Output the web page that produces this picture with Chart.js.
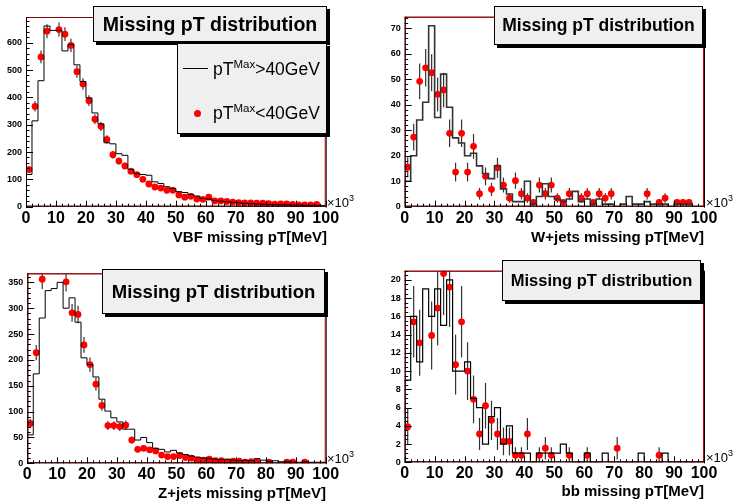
<!DOCTYPE html>
<html>
<head>
<meta charset="utf-8">
<title>Missing pT distribution</title>
<script src="https://cdn.jsdelivr.net/npm/chart.js@4/dist/chart.umd.min.js"></script>
<style>
  html, body { margin: 0; padding: 0; background: #fff; }
  #fig { position: relative; width: 735px; height: 502px; overflow: hidden;
         font-family: "Liberation Sans", Arial, Helvetica, sans-serif; color: #000; }
  #fig canvas { position: absolute; }
  .box { position: absolute; box-sizing: border-box; background: #efefef; border: 1px solid #000;
         box-shadow: 3px 3px 0 #000; display: flex; align-items: center; justify-content: center;
         font-weight: bold; white-space: nowrap; }
  .lbl { position: absolute; white-space: nowrap; line-height: 1; }
  .sup { position: relative; }
</style>
</head>
<body>
<div id="fig">
  <canvas id="pVBF" width="367" height="251" style="left:0;top:0"></canvas>
  <canvas id="pWJ" width="368" height="251" style="left:367px;top:0"></canvas>
  <canvas id="pZJ" width="367" height="251" style="left:0;top:251px"></canvas>
  <canvas id="pBB" width="368" height="251" style="left:367px;top:251px"></canvas>

  <div class="box" style="left:93px;top:6px;width:234px;height:36px;font-size:19.5px">Missing pT distribution</div>
  <div class="box" style="left:177px;top:43px;width:150px;height:91px"></div>
  <div style="position:absolute;left:183px;top:68px;width:25px;height:0;border-top:1px solid #000"></div>
  <div class="lbl" style="left:213px;top:61px;font-size:17.5px">pT<span class="sup" style="font-size:11.5px;top:-7px">Max</span>&gt;40GeV</div>
  <div style="position:absolute;left:193.5px;top:109.5px;width:7px;height:7px;border-radius:50%;background:#ff0000"></div>
  <div class="lbl" style="left:213px;top:105px;font-size:17.5px">pT<span class="sup" style="font-size:11.5px;top:-7px">Max</span>&lt;40GeV</div>
  <div class="lbl" style="right:408px;top:229px;font-size:15px;font-weight:bold">VBF missing pT[MeV]</div>
  <div class="lbl" style="left:327px;top:196px;font-size:13px">×10<span class="sup" style="font-size:9px;top:-6px">3</span></div>

  <div class="box" style="left:494px;top:6px;width:209px;height:39px;font-size:17.5px">Missing pT distribution</div>
  <div class="lbl" style="right:31px;top:229px;font-size:15px;font-weight:bold">W+jets missing pT[MeV]</div>
  <div class="lbl" style="left:706px;top:196px;font-size:13px">×10<span class="sup" style="font-size:9px;top:-6px">3</span></div>

  <div class="box" style="left:102px;top:269px;width:223px;height:45px;font-size:18.5px">Missing pT distribution</div>
  <div class="lbl" style="right:409px;top:485px;font-size:15px;font-weight:bold">Z+jets missing pT[MeV]</div>
  <div class="lbl" style="left:327px;top:452px;font-size:13px">×10<span class="sup" style="font-size:9px;top:-6px">3</span></div>

  <div class="box" style="left:502px;top:260px;width:199px;height:41px;font-size:16.5px">Missing pT distribution</div>
  <div class="lbl" style="right:31px;top:483px;font-size:15px;font-weight:bold">bb missing pT[MeV]</div>
  <div class="lbl" style="left:706px;top:451px;font-size:13px">×10<span class="sup" style="font-size:9px;top:-6px">3</span></div>
</div>

<script>
// Bin centres of the 50 missing-pT bins (x in units of 10^3 MeV), bin width 2
const binCenters = [1, 3, 5, 7, 9, 11, 13, 15, 17, 19, 21, 23, 25, 27, 29, 31, 33, 35, 37, 39,
  41, 43, 45, 47, 49, 51, 53, 55, 57, 59, 61, 63, 65, 67, 69, 71, 73, 75, 77, 79,
  81, 83, 85, 87, 89, 91, 93, 95, 97, 99];
const binWidth = 2;
const xTicks = [0, 10, 20, 30, 40, 50, 60, 70, 80, 90, 100];

// VBF: histogram for pT^Max > 40 GeV, points for pT^Max < 40 GeV
const vbfHist = [118, 314, 461, 661, 645, 645, 570, 594, 519, 458, 398, 343, 303, 234, 230, 194, 188, 136, 121, 118,
  115, 91, 85, 73, 67, 55, 52, 45, 39, 30, 28, 22, 20, 18, 16, 14, 12, 11, 10, 9,
  8, 8, 7, 7, 6, 6, 5, 5, 4, 4];
const vbfPts = [136, 367, 548, 642, null, 648, 631, 590, 494, 449, 388, 320, 294, 246, 190, 167, 149, 130, 117, 100,
  83, 72, 68, 60, 60, 43, 35, 38, 28, 27, 35, 21, 21, 19, 17, 15, 14, 14, 13, 13,
  11, 9, 10, 10, 8, 7, 7, 7, 8, null];
const vbfYTicks = [0, 100, 200, 300, 400, 500, 600];
const vbfYMax = 694;

// W+jets
const wjHist = [10, 20, 34, 41, 71, 35, 52, 39, 27, 25, 20, 21, 16, 13, 11, 16, 7, 5, 2, 2,
  10, 1, 4, 9, 4, 3, 2, 3, 6, 2, 3, 1, 3, 1, 1, 0, 1, 4, 1, 1,
  2, 1, 1, 1, 0, 1, 1, 1, 0, 0];
const wjPts = [15.5, 27.3, 49.2, 54.5, 52.6, 44.1, 45.8, 28.8, 13.6, 28.8, 13.6, 23.7, 5.1, 11.9, 6.8, 15.3, 8.5, 3.4, 10.2, 5.1,
  3.4, 1.7, 8.5, 5.1, 8.5, 3.4, 1.7, 5.1, null, 3.4, 5.1, 1.7, 5.1, 3.4, 5.1, null, null, null, null, null,
  5.1, null, 1.7, 3.4, null, 1.7, 1.7, 1.7, null, null];
const wjYTicks = [0, 10, 20, 30, 40, 50, 60, 70];
const wjYMax = 74.55;

// Z+jets
const zjHist = [55, 173, 281, 334, 338, 350, 300, 320, 273, 204, 191, 167, 124, 101, 88, 80, 66, 66, 45, 50,
  40, 29, 27, 22, 25, 20, 17, 14, 12, 10, 9, 8, 7, 8, 6, 5, 6, 5, 9, 6,
  4, 5, 3, 3, 2, 2, 3, 2, 2, 2];
const zjPts = [77, 214, 356, null, null, null, 351, 291, 288, 229, 191, 153, 112, 73, 73, 71, 74, 45, 27, 29,
  26, 24, 16, 13, 13, 15, 11, 10, 6, 6, 8, 5, 5, 2, 4, 4, 2, 3, 2, null,
  2, null, null, 2, 2, null, 2, null, null, null];
const zjYTicks = [0, 50, 100, 150, 200, 250, 300, 350];
const zjYMax = 367.5;

// bb
const bbHist = [9, 16, 11, 19, 16, 19, 15, 20, 10, 10, 11, 7, 6, 2, 5, 6, 2, 4, 1, 1,
  1, 0, 1, 1, 1, 1, 2, 1, 0, 0, 1, 0, 0, 1, 0, 0, 0, 0, 0, 1,
  0, 0, 0, 1, 0, 0, 0, 0, 0, 0];
const bbPts = [3.9, 15.4, 13.1, null, 13.9, 16.9, 20.7, 19.2, 10.7, 15.4, 10.0, 6.9, 3.1, 6.2, 4.6, 3.1, 2.3, 2.3, 0.77, 0.77,
  3.1, null, 0.77, 1.54, 0.77, null, null, 0.77, null, null, 0.77, null, null, null, null, 1.54, null, null, null, null,
  null, null, 0.77, null, null, null, null, null, null, null];
const bbYTicks = [0, 2, 4, 6, 8, 10, 12, 14, 16, 18, 20];
const bbYMax = 21;

const FONT = '"Liberation Sans", Arial, Helvetica, sans-serif';

// Layout of each pad: canvas size and the frame rectangle inside it
const pads = [
  { id: 'pVBF', hist: vbfHist, pts: vbfPts, yTicks: vbfYTicks, yMax: vbfYMax, yMinor: 20,
    w: 367, h: 251, frame: { l: 26, t: 17, r: 325.7, b: 206.7 }, lineWidth: 1, lineColor: '#000' },
  { id: 'pWJ', hist: wjHist, pts: wjPts, yTicks: wjYTicks, yMax: wjYMax, yMinor: 2,
    w: 368, h: 251, frame: { l: 37.7, t: 16.7, r: 337, b: 206.7 }, lineWidth: 1.6, lineColor: '#333' },
  { id: 'pZJ', hist: zjHist, pts: zjPts, yTicks: zjYTicks, yMax: zjYMax, yMinor: 10,
    w: 367, h: 251, frame: { l: 27.3, t: 22.3, r: 325.7, b: 212.3 }, lineWidth: 1, lineColor: '#000' },
  { id: 'pBB', hist: bbHist, pts: bbPts, yTicks: bbYTicks, yMax: bbYMax, yMinor: 0.5,
    w: 368, h: 251, frame: { l: 37.7, t: 19.7, r: 337, b: 211.3 }, lineWidth: 1.2, lineColor: '#000' }
];

// Step outline of a histogram from its bin contents
function histOutline(counts) {
  const half = binWidth / 2;
  const pts = [{ x: binCenters[0] - half, y: 0 }];
  counts.forEach((v, i) => pts.push({ x: binCenters[i] - half, y: v }));
  const last = counts.length - 1;
  pts.push({ x: binCenters[last] + half, y: counts[last] });
  pts.push({ x: binCenters[last] + half, y: 0 });
  return pts;
}

// Vertical Poisson error bars under the markers
const errorBars = {
  id: 'errorBars',
  beforeDatasetDraw(chart, args) {
    if (args.index !== 1) return;
    const { ctx, chartArea: a, scales: { x: xs, y: ys } } = chart;
    ctx.save();
    ctx.beginPath();
    ctx.rect(a.left, a.top, a.right - a.left, a.bottom - a.top);
    ctx.clip();
    ctx.strokeStyle = '#333';
    ctx.lineWidth = 1.2;
    chart.data.datasets[1].data.forEach(p => {
      const e = Math.sqrt(p.y);
      const px = xs.getPixelForValue(p.x);
      ctx.beginPath();
      ctx.moveTo(px, ys.getPixelForValue(p.y - e));
      ctx.lineTo(px, ys.getPixelForValue(p.y + e));
      ctx.stroke();
    });
    ctx.restore();
  }
};

// Frame, axis lines and inward tick marks
function framePlugin(pad) {
  return {
    id: 'rootFrame',
    afterDraw(chart) {
      const { ctx, chartArea: a, scales: { x: xs, y: ys } } = chart;
      ctx.save();
      // frame
      ctx.lineWidth = 1;
      ctx.strokeStyle = '#d40000';
      ctx.strokeRect(a.left + 0.5, a.top + 0.5, a.right - a.left - 1, a.bottom - a.top - 1);
      ctx.strokeStyle = '#7a0a0a';
      ctx.beginPath(); ctx.moveTo(a.left, a.top + 0.5); ctx.lineTo(a.right, a.top + 0.5); ctx.stroke();
      ctx.strokeStyle = '#000';
      ctx.beginPath(); ctx.moveTo(a.right + 0.5, a.top); ctx.lineTo(a.right + 0.5, a.bottom + 1); ctx.stroke();
      // axes
      ctx.strokeStyle = '#000';
      ctx.beginPath();
      ctx.moveTo(a.left + 0.5, a.top); ctx.lineTo(a.left + 0.5, a.bottom);
      ctx.moveTo(a.left, a.bottom - 0.5); ctx.lineTo(a.right, a.bottom - 0.5);
      ctx.stroke();
      // x ticks
      ctx.beginPath();
      for (let v = 0; v <= 100 + 1e-9; v += 2) {
        const px = Math.round(xs.getPixelForValue(v)) + 0.5;
        const len = (Math.abs(v % 10) < 1e-9) ? 6 : 3;
        ctx.moveTo(px, a.bottom); ctx.lineTo(px, a.bottom - len);
      }
      // y ticks
      const major = pad.yTicks[1] - pad.yTicks[0];
      for (let v = 0; v <= pad.yMax + 1e-9; v += pad.yMinor) {
        const py = Math.round(ys.getPixelForValue(v)) + 0.5;
        const r = v / major;
        const len = (Math.abs(r - Math.round(r)) < 1e-6) ? 7 : 3.5;
        ctx.moveTo(a.left, py); ctx.lineTo(a.left + len, py);
      }
      ctx.stroke();
      ctx.restore();
    }
  };
}

pads.forEach(pad => {
  const points = pad.pts
    .map((v, i) => (v === null ? null : { x: binCenters[i], y: v }))
    .filter(p => p !== null);
  new Chart(document.getElementById(pad.id), {
    type: 'line',
    data: {
      datasets: [
        { type: 'line', data: histOutline(pad.hist), stepped: 'before', borderColor: pad.lineColor,
          borderWidth: pad.lineWidth, pointRadius: 0, fill: false, tension: 0 },
        { type: 'scatter', data: points, showLine: false, pointRadius: 3.4, pointHoverRadius: 3.4,
          pointBackgroundColor: '#ff0000', pointBorderColor: '#ff0000', pointBorderWidth: 0 }
      ]
    },
    options: {
      responsive: false,
      animation: false,
      devicePixelRatio: 1,
      events: [],
      layout: { padding: { left: 0, top: pad.frame.t, right: pad.w - pad.frame.r, bottom: 0 } },
      plugins: { legend: { display: false }, tooltip: { enabled: false } },
      scales: {
        x: {
          type: 'linear', min: 0, max: 100,
          afterBuildTicks: s => { s.ticks = xTicks.map(v => ({ value: v })); },
          afterFit: s => { s.height = pad.h - pad.frame.b; },
          grid: { display: false, drawTicks: false },
          border: { display: false },
          ticks: { color: '#000', font: { family: FONT, size: 16, weight: 'bold' }, padding: 2,
                   maxRotation: 0, autoSkip: false }
        },
        y: {
          type: 'linear', min: 0, max: pad.yMax,
          afterBuildTicks: s => { s.ticks = pad.yTicks.map(v => ({ value: v })); },
          afterFit: s => { s.width = pad.frame.l; },
          grid: { display: false, drawTicks: false },
          border: { display: false },
          ticks: { color: '#000', font: { family: FONT, size: 9, weight: 'bold' }, padding: 4, autoSkip: false }
        }
      }
    },
    plugins: [errorBars, framePlugin(pad)]
  });
});
</script>
</body>
</html>
